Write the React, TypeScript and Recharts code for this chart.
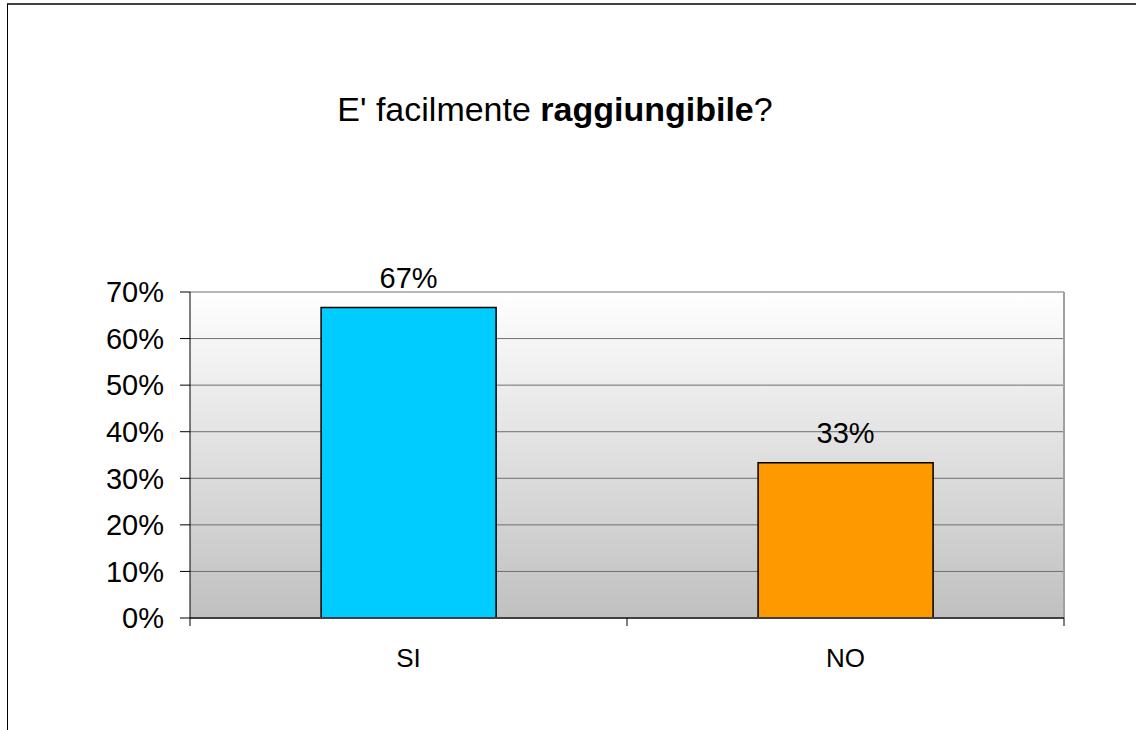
import React from 'react';
import { BarChart, Bar, XAxis, YAxis, CartesianGrid, LabelList, Cell, ReferenceLine } from 'recharts';

const categories = ['SI', 'NO'];
const shares = [0.6667, 0.3333];
const yTicks = [0, 0.1, 0.2, 0.3, 0.4, 0.5, 0.6, 0.7];
const barColors = ['#00CCFF', '#FF9900'];

const data = categories.map((c, i) => ({ name: c, value: shares[i] }));

const FONT = '"Liberation Sans", Arial, Helvetica, sans-serif';
const pct = (v: number) => `${Math.round(Number(v) * 100)}%`;

const CategoryTick = (props: any) => {
  const { x, y, payload, index, width, visibleTicksCount } = props;
  const half =
    payload && typeof payload.offset === 'number' && payload.offset > 0
      ? payload.offset
      : width / (2 * (visibleTicksCount || 1));
  return (
    <g>
      {index === 0 && (
        <line x1={x - half} x2={x - half} y1={y} y2={y + 8} stroke="#000" strokeWidth={1} />
      )}
      <line x1={x + half} x2={x + half} y1={y} y2={y + 8} stroke="#000" strokeWidth={1} />
      <text x={x} y={y + 49} textAnchor="middle" fill="#000" fontSize={26} fontFamily={FONT}>
        {payload.value}
      </text>
    </g>
  );
};

export default function App() {
  return (
    <div style={{ position: 'absolute', left: 0, top: 0, width: 1136, height: 730, background: '#fff', fontFamily: FONT }}>
      <div
        style={{
          position: 'absolute',
          left: 7,
          top: 3,
          width: 1129,
          height: 727,
          borderTop: '2px solid #404040',
          borderLeft: '1px solid #000',
          boxSizing: 'border-box',
        }}
      />
      <div
        style={{
          position: 'absolute',
          left: 0,
          top: 92,
          width: 1110,
          textAlign: 'center',
          fontSize: 34,
          lineHeight: '34px',
          color: '#000',
          whiteSpace: 'nowrap',
          fontFamily: FONT,
        }}
      >
        E' facilmente <b>raggiungibile</b>?
      </div>
      <div style={{ position: 'absolute', left: 0, top: 0 }}>
        <BarChart
          width={1136}
          height={730}
          data={data}
          margin={{ top: 292, right: 72, bottom: 0, left: 0 }}
          barCategoryGap="30%"
          style={{ fontFamily: FONT }}
        >
          <defs>
            <linearGradient id="plotBg" x1="0" y1="0" x2="0" y2="1">
              <stop offset="0%" stopColor="#ffffff" />
              <stop offset="100%" stopColor="#c0c0c0" />
            </linearGradient>
          </defs>
          <CartesianGrid fill="url(#plotBg)" vertical={false} stroke="#6e6e6e" strokeWidth={1} />
          <XAxis
            dataKey="name"
            height={112}
            tickSize={0}
            tickMargin={0}
            tickLine={false}
            axisLine={{ stroke: '#404040', strokeWidth: 2 }}
            tick={<CategoryTick />}
            interval={0}
          />
          <YAxis
            width={190}
            domain={[0, 0.7]}
            ticks={yTicks}
            interval={0}
            tickSize={10}
            tickMargin={16}
            tickFormatter={pct}
            axisLine={{ stroke: '#000', strokeWidth: 1 }}
            tickLine={{ stroke: '#000', strokeWidth: 1 }}
            tick={{ fill: '#000', fontSize: 29, fontFamily: FONT }}
          />
          <ReferenceLine x="NO" position="end" stroke="#a0a0a0" strokeWidth={2} ifOverflow="visible" />
          <Bar dataKey="value" stroke="#000" strokeWidth={1.5} isAnimationActive={false}>
            {data.map((d, i) => (
              <Cell key={d.name} fill={barColors[i % barColors.length]} />
            ))}
            <LabelList
              dataKey="value"
              position="top"
              offset={20}
              formatter={(v: any) => pct(v)}
              fill="#000"
              fontSize={29}
              fontFamily={FONT}
            />
          </Bar>
        </BarChart>
      </div>
    </div>
  );
}
